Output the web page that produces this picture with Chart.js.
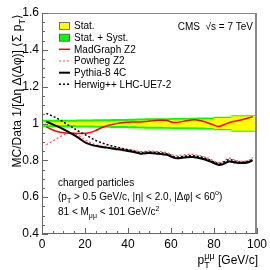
<!DOCTYPE html>
<html>
<head>
<meta charset="utf-8">
<script src="https://cdn.jsdelivr.net/npm/chart.js@4.4.1/dist/chart.umd.min.js"></script>
<style>
  html, body { margin: 0; padding: 0; background: #fff; }
  #wrap { width: 270px; height: 270px; }
</style>
</head>
<body>
<div id="wrap"><canvas id="chart" width="270" height="270"></canvas></div>
<script>
// ---- values ----
const curveX = [2, 5, 8, 11, 14, 17, 20, 23, 26, 30, 34, 38, 42, 46, 50, 54, 58, 62, 66, 70, 74, 78, 82, 84, 87, 90, 93, 96, 98];
const pythia8 = [1.01, 0.995, 0.98, 0.963, 0.943, 0.922, 0.898, 0.884, 0.876, 0.869, 0.862, 0.855, 0.847, 0.836, 0.84, 0.836, 0.83, 0.812, 0.815, 0.818, 0.81, 0.795, 0.776, 0.778, 0.794, 0.788, 0.785, 0.79, 0.80];
const herwig = [1.055, 1.04, 1.022, 1.0, 0.98, 0.958, 0.94, 0.92, 0.903, 0.886, 0.874, 0.863, 0.853, 0.843, 0.845, 0.842, 0.836, 0.818, 0.822, 0.825, 0.818, 0.802, 0.782, 0.788, 0.804, 0.795, 0.79, 0.795, 0.805];
const powheg = [0.885, 0.905, 0.925, 0.942, 0.948, 0.935, 0.912, 0.893, 0.882, 0.874, 0.868, 0.862, 0.856, 0.848, 0.85, 0.848, 0.842, 0.826, 0.83, 0.832, 0.824, 0.808, 0.788, 0.792, 0.812, 0.8, 0.795, 0.8, 0.815];

const madgraphX = [2, 4, 7, 10, 14, 18, 22, 25, 28, 31, 34, 38, 42, 46, 50, 54, 58, 61, 64, 67, 71, 75, 79, 82, 85, 88, 92, 96, 98];
const madgraph = [0.982, 0.97, 0.957, 0.95, 0.947, 0.946, 0.95, 0.962, 0.978, 0.99, 0.998, 1.005, 1.008, 1.008, 1.013, 1.017, 1.016, 1.006, 1.008, 1.015, 1.02, 1.012, 0.996, 0.984, 0.995, 1.008, 1.018, 1.03, 1.037];

// data/data band (bin edges, half widths per bin)
const bandEdges = [0, 4, 8, 12, 16, 20, 24, 28, 32, 36, 40, 44, 48, 52, 56, 60, 64, 68, 72, 76, 80, 84, 88, 92, 96, 100];
const statHalf = [0.010, 0.010, 0.010, 0.010, 0.011, 0.011, 0.012, 0.012, 0.013, 0.014, 0.015, 0.016, 0.017, 0.018, 0.019, 0.020, 0.020, 0.021, 0.022, 0.024, 0.030, 0.030, 0.040, 0.040, 0.040];
const totalHalf = [0.021, 0.021, 0.021, 0.021, 0.022, 0.022, 0.023, 0.023, 0.024, 0.025, 0.026, 0.027, 0.028, 0.028, 0.029, 0.030, 0.030, 0.031, 0.032, 0.033, 0.036, 0.036, 0.045, 0.045, 0.045];

const xTickLabels = ['0', '20', '40', '60', '80', '100'];
const yTickLabels = ['0.4', '0.6', '0.8', '1', '1.2', '1.4', '1.6'];

const FONT = '"Liberation Sans", Arial, sans-serif';

function pts(xs, ys) { return xs.map((x, i) => ({ x: x, y: ys[i] })); }
function bandPts(sign, half) {
  const out = bandEdges.slice(0, -1).map((x, i) => ({ x: x, y: 1 + sign * half[i] }));
  out.push({ x: 100, y: 1 + sign * half[half.length - 1] });
  return out;
}

// draw text with sub/superscripts: parts = [[text, mode], ...]
function rich(ctx, parts, x, y, size, align) {
  const small = Math.round(size * 0.72);
  const w = parts.map(p => {
    if (p[1] === 'subsup') {
      ctx.font = small + 'px ' + FONT;
      return Math.max(ctx.measureText(p[0]).width, ctx.measureText(p[2]).width);
    }
    ctx.font = (p[1] ? small : size) + 'px ' + FONT;
    return ctx.measureText(p[0]).width;
  });
  let cx = x;
  if (align === 'right') cx = x - w.reduce((a, b) => a + b, 0);
  ctx.textAlign = 'left';
  ctx.textBaseline = 'alphabetic';
  parts.forEach((p, i) => {
    if (p[1] === 'subsup') {
      ctx.font = small + 'px ' + FONT;
      ctx.fillText(p[0], cx, y + size * 0.3);
      ctx.fillText(p[2], cx, y - size * 0.45);
    } else if (p[1] === 'sub') {
      ctx.font = small + 'px ' + FONT;
      ctx.fillText(p[0], cx, y + size * 0.3);
    } else if (p[1] === 'sup') {
      ctx.font = small + 'px ' + FONT;
      ctx.fillText(p[0], cx, y - size * 0.45);
    } else {
      ctx.font = size + 'px ' + FONT;
      ctx.fillText(p[0], cx, y);
    }
    cx += w[i];
  });
}

// frame, inner ticks, legend and labels
const decorations = {
  id: 'decorations',
  afterDatasetsDraw(chart) {
    const ctx = chart.ctx;
    const a = chart.chartArea;
    const xs = chart.scales.x, ys = chart.scales.y;
    ctx.save();
    // frame
    ctx.strokeStyle = '#888';
    ctx.lineWidth = 1;
    ctx.beginPath();
    ctx.moveTo(a.left, a.top + 0.5); ctx.lineTo(a.right, a.top + 0.5);
    ctx.stroke();
    ctx.lineWidth = 2;
    ctx.beginPath();
    ctx.moveTo(a.right - 1, a.top); ctx.lineTo(a.right - 1, a.bottom);
    ctx.stroke();
    ctx.strokeStyle = '#666';
    ctx.lineWidth = 1;
    ctx.beginPath();
    ctx.moveTo(a.left + 0.5, a.top); ctx.lineTo(a.left + 0.5, a.bottom);
    ctx.moveTo(a.left, a.bottom - 0.5); ctx.lineTo(a.right, a.bottom - 0.5);
    // x ticks
    for (let v = 0; v <= 100; v += 5) {
      const px = Math.round(xs.getPixelForValue(v)) + 0.5;
      const len = v % 20 === 0 ? 6 : 3;
      ctx.moveTo(px, a.bottom); ctx.lineTo(px, a.bottom - len);
    }
    // y ticks
    for (let k = 0; k <= 24; k++) {
      const v = 0.4 + k * 0.05;
      const py = Math.round(ys.getPixelForValue(v)) + 0.5;
      const len = k % 4 === 0 ? 6 : 3;
      ctx.moveTo(a.left, py); ctx.lineTo(a.left + len, py);
    }
    ctx.stroke();

    // legend
    const lx0 = 59, lx1 = 70, tx = 74;
    const rows = [26, 37.7, 49.3, 61, 72.7, 84.3];
    const entries = [
      { label: 'Stat.', box: '#ffff00' },
      { label: 'Stat. + Syst.', box: '#00ff00' },
      { label: 'MadGraph Z2', color: '#ff0000', width: 1.5, dash: [] },
      { label: 'Powheg Z2', color: '#f05050', width: 1.2, dash: [2, 2] },
      { label: 'Pythia-8 4C', color: '#000', width: 2, dash: [] },
      { label: 'Herwig++ LHC-UE7-2', color: '#000', width: 1.5, dash: [2, 2] }
    ];
    entries.forEach((e, i) => {
      const y = rows[i];
      if (e.box) {
        ctx.fillStyle = e.box;
        ctx.fillRect(lx0, y - 3.5, lx1 - lx0, 7);
        ctx.strokeStyle = '#555';
        ctx.lineWidth = 0.8;
        ctx.setLineDash([]);
        ctx.strokeRect(lx0 + 0.5, y - 3.5, lx1 - lx0 - 1, 7);
      } else {
        ctx.strokeStyle = e.color;
        ctx.lineWidth = e.width;
        ctx.setLineDash(e.dash);
        ctx.beginPath();
        ctx.moveTo(lx0, y); ctx.lineTo(lx1, y);
        ctx.stroke();
      }
      ctx.setLineDash([]);
      ctx.fillStyle = '#000';
      ctx.font = '10px ' + FONT;
      ctx.textAlign = 'left';
      ctx.textBaseline = 'middle';
      ctx.fillText(e.label, tx, y + 0.5);
    });

    // CMS label
    ctx.fillStyle = '#000';
    rich(ctx, [['CMS  \u221As = 7 TeV', '']], 253, 29.5, 10, 'right');

    // selection text
    rich(ctx, [['charged particles', '']], 58, 186, 10, 'left');
    rich(ctx, [['(p', ''], ['T', 'sub'], [' > 0.5 GeV/c, |\u03B7| < 2.0, |\u0394\u03C6| < 60', ''], ['o', 'sup'], [')', '']], 58, 199.5, 10, 'left');
    rich(ctx, [['81 < M', ''], ['\u03BC\u03BC', 'sub'], [' < 101 GeV/c', ''], ['2', 'sup']], 58, 215, 10, 'left');

    // x title
    rich(ctx, [['p', ''], ['T', 'subsup', '\u03BC\u03BC'], [' [GeV/c]', '']], 258, 264, 12, 'right');

    // y title (rotated)
    ctx.translate(21, 14);
    ctx.rotate(-Math.PI / 2);
    rich(ctx, [['MC/Data 1/[\u0394\u03B7 \u0394(\u0394\u03C6)] \u27E8\u03A3 p', ''], ['T', 'sub'], ['\u27E9', '']], 0, 0, 12, 'right');
    ctx.restore();
  }
};

new Chart(document.getElementById('chart').getContext('2d'), {
  type: 'line',
  data: {
    datasets: [
      { label: 'Stat.+Syst. up', data: bandPts(1, totalHalf), stepped: true, borderWidth: 0, borderColor: 'rgba(0,0,0,0)', pointRadius: 0, fill: false, order: 3 },
      { label: 'Stat.+Syst. down', data: bandPts(-1, totalHalf), stepped: true, borderWidth: 0, borderColor: 'rgba(0,0,0,0)', pointRadius: 0, fill: '-1', backgroundColor: '#00ff00', order: 3 },
      { label: 'Stat. up', data: bandPts(1, statHalf), stepped: true, borderWidth: 0, borderColor: 'rgba(0,0,0,0)', pointRadius: 0, fill: false, order: 2 },
      { label: 'Stat. down', data: bandPts(-1, statHalf), stepped: true, borderWidth: 0, borderColor: 'rgba(0,0,0,0)', pointRadius: 0, fill: '-1', backgroundColor: '#ffff00', order: 2 },
      { label: 'MadGraph Z2', data: pts(madgraphX, madgraph), borderColor: '#ff0000', borderWidth: 1.5, pointRadius: 0, tension: 0.35, fill: false, order: 1 },
      { label: 'Powheg Z2', data: pts(curveX, powheg), borderColor: '#f05050', borderWidth: 1.2, borderDash: [2, 2], pointRadius: 0, tension: 0.35, fill: false, order: 1 },
      { label: 'Pythia-8 4C', data: pts(curveX, pythia8), borderColor: '#000', borderWidth: 2, pointRadius: 0, tension: 0.35, fill: false, order: 0 },
      { label: 'Herwig++ LHC-UE7-2', data: pts(curveX, herwig), borderColor: '#000', borderWidth: 1.5, borderDash: [2, 2], pointRadius: 0, tension: 0.35, fill: false, order: 0 }
    ]
  },
  options: {
    responsive: false,
    animation: false,
    devicePixelRatio: 1,
    layout: { padding: { top: 13, right: 11, left: 0, bottom: 0 } },
    plugins: { legend: { display: false }, tooltip: { enabled: false } },
    scales: {
      x: {
        type: 'linear', min: 0, max: 100,
        grid: { display: false, drawTicks: false },
        border: { display: false },
        ticks: {
          stepSize: 20, padding: 3, color: '#000', maxRotation: 0,
          font: { size: 12, family: FONT },
          callback: v => xTickLabels[Math.round(v / 20)]
        },
        afterFit: s => { s.height = 36; }
      },
      y: {
        type: 'linear', min: 0.4, max: 1.6,
        grid: { display: false, drawTicks: false },
        border: { display: false },
        ticks: {
          stepSize: 0.2, padding: 3, color: '#000',
          font: { size: 12, family: FONT },
          callback: v => yTickLabels[Math.round((v - 0.4) / 0.2)]
        },
        afterFit: s => { s.width = 42; }
      }
    }
  },
  plugins: [decorations]
});
</script>
</body>
</html>
